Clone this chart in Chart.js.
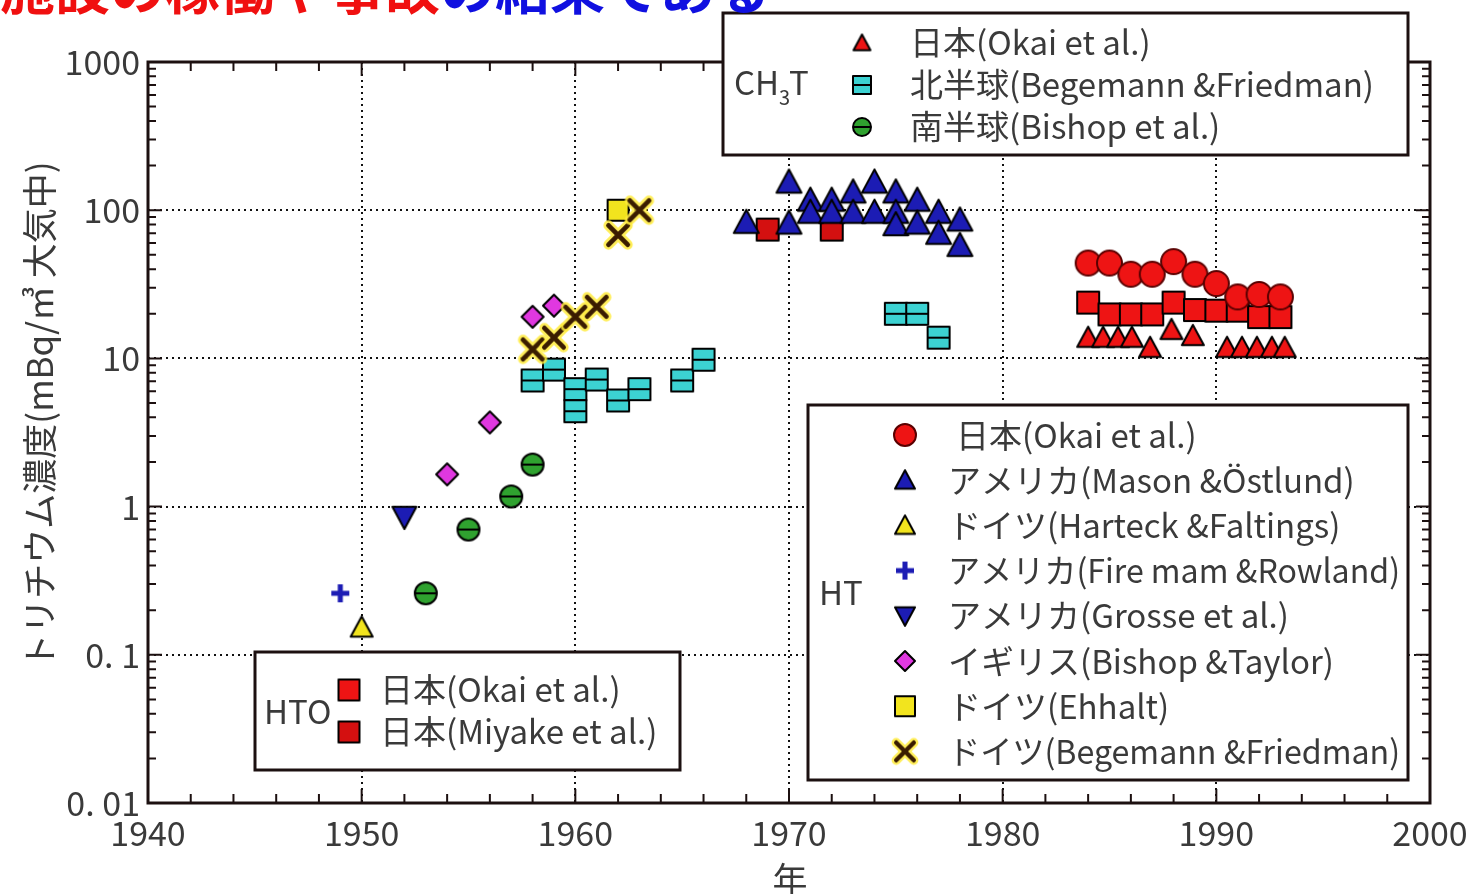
<!DOCTYPE html>
<html>
<head>
<meta charset="utf-8">
<script src="https://cdn.jsdelivr.net/npm/chart.js@4.4.1/dist/chart.umd.min.js"></script>
<style>
  html, body { margin: 0; padding: 0; background: #fff; overflow: hidden; }
  canvas { display: block; }
</style>
</head>
<body>
<canvas id="myCanvas" width="1473" height="894"></canvas>
<script>
// --- data ---
var xTickLabels = ['1940', '1950', '1960', '1970', '1980', '1990', '2000'];
var yTickValues = [0.01, 0.1, 1, 10, 100, 1000];
var yTickLabels = ['0. 01', '0. 1', '1', '10', '100', '1000'];

// CH3T
var ch3tJapanYears = [1984, 1984.7, 1985.4, 1986.05, 1986.9, 1987.9, 1988.9, 1990.5, 1991.2, 1991.9, 1992.6, 1993.2];
var ch3tJapanVals  = [13.8, 13.8, 13.8, 13.8, 11.8, 15.6, 14.2, 11.8, 11.8, 11.8, 11.8, 11.8];
var ch3tNorthYears = [1958, 1959, 1960, 1960, 1961, 1962, 1963, 1965, 1966, 1975, 1976, 1977];
var ch3tNorthVals  = [7.1, 8.4, 6.2, 4.4, 7.2, 5.2, 6.2, 7.1, 9.8, 20, 20, 13.8];
var ch3tSouthYears = [1953, 1955, 1957, 1958];
var ch3tSouthVals  = [0.26, 0.70, 1.17, 1.92];

// HT
var htJapanYears = [1984, 1985, 1986, 1987, 1988, 1989, 1990, 1991, 1992, 1993];
var htJapanVals  = [44, 44, 37, 37, 45, 37, 32, 26, 27, 26];
var htMasonYears = [1968, 1970, 1970, 1971, 1971, 1972, 1972, 1973, 1973, 1974, 1974, 1975, 1975, 1975, 1976, 1976, 1977, 1977, 1978, 1978];
var htMasonVals  = [83, 155, 82, 117, 97, 117, 97, 133, 97, 155, 97, 133, 97, 80, 117, 82, 97, 70, 86, 58];
var htHarteckYears = [1950];
var htHarteckVals  = [0.153];
var htFiremanYears = [1949];
var htFiremanVals  = [0.26];
var htGrosseYears = [1952];
var htGrosseVals  = [0.85];
var htBishopYears = [1954, 1956, 1958, 1959];
var htBishopVals  = [1.65, 3.7, 19.1, 22.7];
var htEhhaltYears = [1962];
var htEhhaltVals  = [100];
var htBegemannYears = [1958, 1959, 1960, 1961, 1962, 1963];
var htBegemannVals  = [11.5, 13.8, 19.1, 22.3, 68, 100];

// HTO
var htoOkaiYears = [1984, 1985, 1986, 1987, 1988, 1989, 1990, 1991, 1992, 1993];
var htoOkaiVals  = [23.8, 19.8, 19.8, 19.8, 23.8, 21.2, 21, 21, 19, 19];
var htoMiyakeYears = [1969, 1972];
var htoMiyakeVals  = [74, 74];

var ch3tLabels = ['日本(Okai et al.)', '北半球(Begemann &Friedman)', '南半球(Bishop et al.)'];
var htLabels = ['日本(Okai et al.)', 'アメリカ(Mason &Östlund)', 'ドイツ(Harteck &Faltings)',
  'アメリカ(Fire mam &Rowland)', 'アメリカ(Grosse et al.)', 'イギリス(Bishop &Taylor)',
  'ドイツ(Ehhalt)', 'ドイツ(Begemann &Friedman)'];
var htoLabels = ['日本(Okai et al.)', '日本(Miyake et al.)'];

var FONT = '"Noto Sans CJK JP", "Noto Sans", sans-serif';
var TXT = '#3a3a3a';
var INK = '#1c1010';

// --- marker images ---
function marker(type, s, fill) {
  var c = document.createElement('canvas');
  c.width = c.height = Math.ceil(s + 8);
  var g = c.getContext('2d');
  var m = c.width / 2, h = s / 2;
  g.translate(m, m);
  g.lineJoin = 'round';
  g.strokeStyle = '#000';
  g.lineWidth = 2;
  g.fillStyle = fill;
  g.beginPath();
  if (type == 'tri') {
    g.moveTo(0, -h); g.lineTo(h, h * 0.85); g.lineTo(-h, h * 0.85); g.closePath();
    g.fill(); g.stroke();
  } else if (type == 'invtri') {
    g.moveTo(0, h); g.lineTo(h, -h * 0.85); g.lineTo(-h, -h * 0.85); g.closePath();
    g.fill(); g.stroke();
  } else if (type == 'sq') {
    g.rect(-h, -h, s, s); g.fill(); g.stroke();
  } else if (type == 'sqline') {
    g.rect(-h, -h, s, s); g.fill(); g.stroke();
    g.beginPath(); g.moveTo(-h, 0); g.lineTo(h, 0); g.stroke();
  } else if (type == 'circ') {
    g.strokeStyle = '#5a0000';
    g.arc(0, 0, h, 0, Math.PI * 2); g.fill(); g.stroke();
  } else if (type == 'circline') {
    g.arc(0, 0, h, 0, Math.PI * 2); g.fill(); g.stroke();
    g.beginPath(); g.moveTo(-h, 0); g.lineTo(h, 0); g.stroke();
  } else if (type == 'diamond') {
    g.moveTo(0, -h); g.lineTo(h, 0); g.lineTo(0, h); g.lineTo(-h, 0); g.closePath();
    g.fill(); g.stroke();
  } else if (type == 'plus') {
    g.strokeStyle = fill; g.lineWidth = s * 0.28; g.lineCap = 'butt';
    g.moveTo(-h, 0); g.lineTo(h, 0); g.moveTo(0, -h); g.lineTo(0, h); g.stroke();
  } else if (type == 'cross') {
    g.lineCap = 'round';
    g.strokeStyle = 'rgba(255,235,60,0.85)'; g.lineWidth = s * 0.42;
    g.moveTo(-h * 0.8, -h * 0.8); g.lineTo(h * 0.8, h * 0.8);
    g.moveTo(h * 0.8, -h * 0.8); g.lineTo(-h * 0.8, h * 0.8); g.stroke();
    g.beginPath(); g.strokeStyle = fill; g.lineWidth = s * 0.2;
    g.moveTo(-h * 0.8, -h * 0.8); g.lineTo(h * 0.8, h * 0.8);
    g.moveTo(h * 0.8, -h * 0.8); g.lineTo(-h * 0.8, h * 0.8); g.stroke();
  }
  return c;
}

var RED = '#ee1414', BLUE = '#1c1cb4', CYAN = '#3cd2d2', GREEN = '#2fa22f',
    MAGENTA = '#e038e0', YELLOW = '#f2e41e', BROWN = '#3a1c00';

var series = [
  // [years, vals, type, size, fill]
  [htBegemannYears, htBegemannVals, 'cross', 24, BROWN],
  [htMasonYears, htMasonVals, 'tri', 25, BLUE],
  [htoMiyakeYears, htoMiyakeVals, 'sq', 22, '#d41010'],
  [htEhhaltYears, htEhhaltVals, 'sq', 21, YELLOW],
  [htBishopYears, htBishopVals, 'diamond', 22, MAGENTA],
  [htGrosseYears, htGrosseVals, 'invtri', 24, BLUE],
  [htFiremanYears, htFiremanVals, 'plus', 18, BLUE],
  [htHarteckYears, htHarteckVals, 'tri', 22, YELLOW],
  [ch3tSouthYears, ch3tSouthVals, 'circline', 22, GREEN],
  [ch3tNorthYears, ch3tNorthVals, 'sqline', 22, CYAN],
  [htJapanYears, htJapanVals, 'circ', 25, RED],
  [htoOkaiYears, htoOkaiVals, 'sq', 22, RED],
  [ch3tJapanYears, ch3tJapanVals, 'tri', 22, RED]
];

var datasets = series.map(function (s) {
  var img = marker(s[2], s[3], s[4]);
  return {
    data: s[0].map(function (x, i) { return { x: x, y: s[1][i] }; }),
    pointStyle: img,
    pointRadius: s[3] / 2,
    showLine: false
  };
});

// --- frame, inward ticks, legends, titles ---
var decor = {
  id: 'decor',
  afterDraw: function (chart) {
    var ctx = chart.ctx, a = chart.chartArea;
    var xs = chart.scales.x, ys = chart.scales.y;
    ctx.save();
    ctx.strokeStyle = INK;
    ctx.lineWidth = 2;
    ctx.beginPath();
    for (var yr = 1940; yr <= 2000; yr += 2) {
      var px = xs.getPixelForValue(yr);
      var len = yr % 10 == 0 ? 14 : 9;
      ctx.moveTo(px, a.bottom); ctx.lineTo(px, a.bottom - len);
      ctx.moveTo(px, a.top); ctx.lineTo(px, a.top + len);
    }
    for (var d = 0.01; d < 999; d *= 10) {
      for (var k = 1; k <= 9; k++) {
        var py = ys.getPixelForValue(d * k);
        var l2 = k == 1 ? 14 : 8;
        ctx.moveTo(a.left, py); ctx.lineTo(a.left + l2, py);
        ctx.moveTo(a.right, py); ctx.lineTo(a.right - l2, py);
      }
    }
    ctx.stroke();
    ctx.lineWidth = 3;
    ctx.strokeRect(a.left, a.top, a.right - a.left, a.bottom - a.top);

    function box(x, y, w, h) {
      ctx.fillStyle = '#fff';
      ctx.fillRect(x, y, w, h);
      ctx.lineWidth = 3;
      ctx.strokeStyle = INK;
      ctx.strokeRect(x, y, w, h);
    }
    function icon(type, s, fill, x, y) {
      var im = marker(type, s, fill);
      ctx.drawImage(im, x - im.width / 2, y - im.height / 2);
    }
    ctx.fillStyle = TXT;
    ctx.textBaseline = 'middle';
    ctx.textAlign = 'left';
    var LF = '33px ' + FONT;

    // CH3T box
    box(723, 13, 685, 142);
    ctx.fillStyle = TXT;
    ctx.font = LF;
    ctx.fillText('CH', 734, 82);
    var chw = ctx.measureText('CH').width;
    ctx.font = '20px ' + FONT;
    ctx.fillText('3', 734 + chw, 97);
    ctx.font = LF;
    ctx.fillText('T', 734 + chw + 10, 82);
    icon('tri', 17, RED, 862, 43);
    icon('sqline', 18, CYAN, 862, 85);
    icon('circline', 18, GREEN, 862, 127);
    ctx.fillStyle = TXT;
    [42, 84, 126].forEach(function (yy, i) { ctx.fillText(ch3tLabels[i], 910, yy); });

    // HT box
    box(808, 405, 600, 375);
    ctx.fillStyle = TXT;
    ctx.fillText('HT', 819, 592);
    var htIcons = [['circ', 22, RED], ['tri', 20, BLUE], ['tri', 20, YELLOW], ['plus', 18, BLUE],
      ['invtri', 20, BLUE], ['diamond', 20, MAGENTA], ['sq', 20, YELLOW], ['cross', 22, BROWN]];
    htIcons.forEach(function (ic, i) {
      var yy = 435 + i * 45.2;
      icon(ic[0], ic[1], ic[2], 905, yy);
      ctx.fillStyle = TXT;
      var tx = i == 0 ? 956 : 948;
      ctx.fillText(htLabels[i], tx, yy, 1400 - tx);
    });

    // HTO box
    box(255, 652, 425, 118);
    ctx.fillStyle = TXT;
    ctx.fillText('HTO', 264, 711);
    icon('sq', 21, RED, 349, 690);
    icon('sq', 21, '#d41010', 349, 732);
    ctx.fillStyle = TXT;
    ctx.fillText(htoLabels[0], 380, 689);
    ctx.fillText(htoLabels[1], 380, 731, 290);

    // axis titles
    ctx.font = '35px ' + FONT;
    ctx.textAlign = 'center';
    ctx.fillText('年', 790, 880);
    ctx.save();
    ctx.translate(40, 415);
    ctx.rotate(-Math.PI / 2);
    ctx.fillText('トリチウム濃度(mBq/㎥ 大気中)', 0, 0);
    ctx.restore();

    // cropped heading at the top
    ctx.textAlign = 'left';
    ctx.textBaseline = 'alphabetic';
    ctx.font = 'bold 55px ' + FONT;
    ctx.fillStyle = '#f01010';
    var red = '施設の稼働や事故';
    ctx.fillText(red, 0, 9);
    var w = ctx.measureText(red).width;
    ctx.fillStyle = '#1010e0';
    ctx.fillText('の結果である', w, 9);
    ctx.restore();
  }
};

var ctx = document.getElementById('myCanvas').getContext('2d');
var chart = new Chart(ctx, {
  type: 'scatter',
  data: { datasets: datasets },
  options: {
    responsive: false,
    animation: false,
    layout: { padding: { left: 0, right: 43, top: 62, bottom: 0 } },
    plugins: { legend: { display: false }, tooltip: { enabled: false } },
    scales: {
      x: {
        type: 'linear', min: 1940, max: 2000,
        afterBuildTicks: function (s) { s.ticks = xTickLabels.map(function (t) { return { value: +t }; }); },
        afterFit: function (s) { s.height = 91; s.paddingLeft = 0; s.paddingRight = 0; },
        ticks: { callback: function (v, i) { return xTickLabels[i]; }, color: TXT, font: { size: 34, family: FONT }, padding: 10, maxRotation: 0, autoSkip: false },
        grid: { color: '#111', lineWidth: 2, drawTicks: false },
        border: { display: false, dash: [2, 4] }
      },
      y: {
        type: 'logarithmic', min: 0.01, max: 1000,
        afterBuildTicks: function (s) { s.ticks = yTickValues.map(function (v) { return { value: v }; }); },
        afterFit: function (s) { s.width = 148; s.paddingTop = 0; s.paddingBottom = 0; },
        ticks: { callback: function (v, i) { return yTickLabels[i]; }, color: TXT, font: { size: 34, family: FONT }, padding: 8, autoSkip: false },
        grid: { color: '#111', lineWidth: 2, drawTicks: false },
        border: { display: false, dash: [2, 4] }
      }
    }
  },
  plugins: [decor]
});
</script>
</body>
</html>
